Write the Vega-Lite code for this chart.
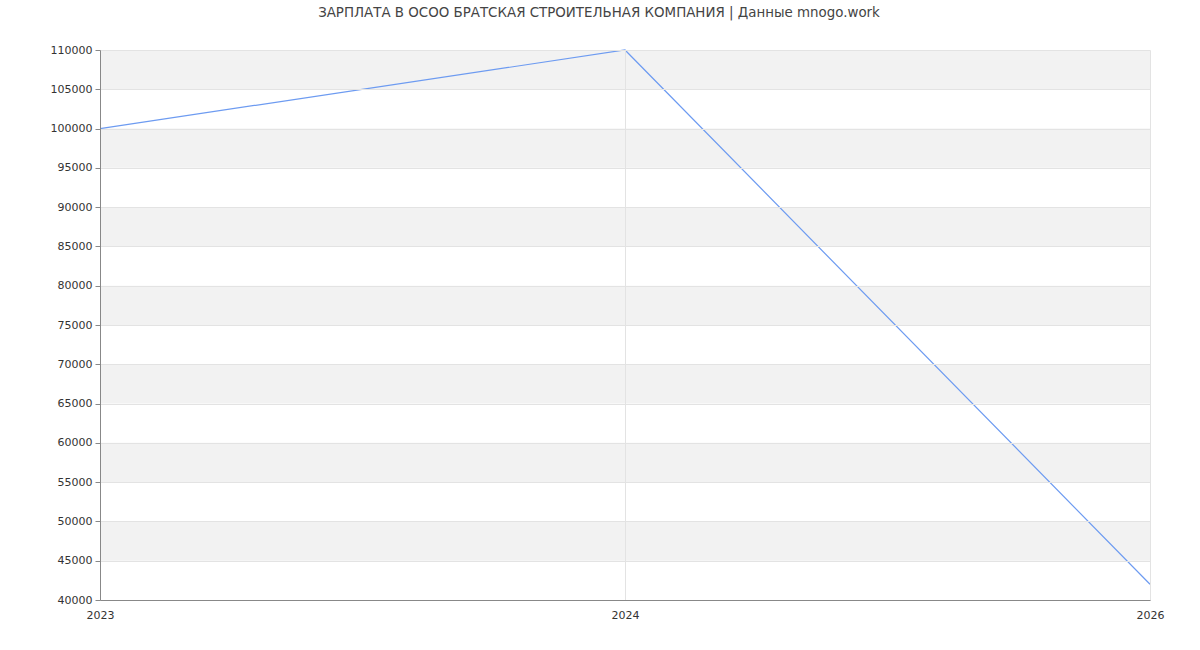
{
  "$schema": "https://vega.github.io/schema/vega-lite/v6.json",
  "width": 1050,
  "height": 550,
  "autosize": {"type": "none"},
  "padding": {"left": 100, "top": 50, "right": 50, "bottom": 50},
  "background": "white",
  "title": {
    "text": "ЗАРПЛАТА В ОСОО БРАТСКАЯ СТРОИТЕЛЬНАЯ КОМПАНИЯ | Данные mnogo.work",
    "font": "DejaVu Sans",
    "fontSize": 13.4,
    "fontWeight": "normal",
    "color": "#444444",
    "anchor": "middle",
    "dx": -26,
    "offset": 25
  },
  "config": {
    "view": {"stroke": null},
    "axis": {
      "labelFont": "DejaVu Sans",
      "labelFontSize": 11,
      "labelColor": "#333333",
      "domainColor": "#888888",
      "tickColor": "#888888",
      "gridColor": "#e3e3e3",
      "gridWidth": 1
    }
  },
  "datasets": {
    "bands": [
      {"lo": 105000, "hi": 110000},
      {"lo": 95000, "hi": 100000},
      {"lo": 85000, "hi": 90000},
      {"lo": 75000, "hi": 80000},
      {"lo": 65000, "hi": 70000},
      {"lo": 55000, "hi": 60000},
      {"lo": 45000, "hi": 50000}
    ],
    "salary": [
      {"year": "2023", "value": 100000},
      {"year": "2024", "value": 110000},
      {"year": "2026", "value": 42000}
    ]
  },
  "encoding": {
    "x": {
      "type": "ordinal",
      "scale": {"type": "point", "padding": 0, "domain": ["2023", "2024", "2026"]},
      "axis": {"title": null, "labelAngle": 0, "labelAlign": "center", "ticks": false, "labelPadding": 9, "labelFlush": false, "labelBound": false, "labelOverlap": false, "grid": true}
    },
    "y": {
      "type": "quantitative",
      "scale": {"domain": [40000, 110000], "nice": false, "zero": false},
      "axis": {"title": null, "format": "d", "labelOverlap": false, "values": [40000,45000,50000,55000,60000,65000,70000,75000,80000,85000,90000,95000,100000,105000,110000], "tickSize": 5, "labelPadding": 3, "grid": true, "zindex": 1}
    }
  },
  "layer": [
    {
      "data": {"name": "bands"},
      "mark": {"type": "rect", "color": "#f2f2f2"},
      "encoding": {
        "x": {"datum": "2023", "type": "ordinal"},
        "x2": {"datum": "2026"},
        "y": {"field": "lo", "type": "quantitative"},
        "y2": {"field": "hi"}
      }
    },
    {
      "data": {"name": "salary"},
      "mark": {"type": "line", "color": "#6d9bf1", "strokeWidth": 1.2},
      "encoding": {
        "x": {"field": "year", "type": "ordinal"},
        "y": {"field": "value", "type": "quantitative"}
      }
    }
  ]
}
